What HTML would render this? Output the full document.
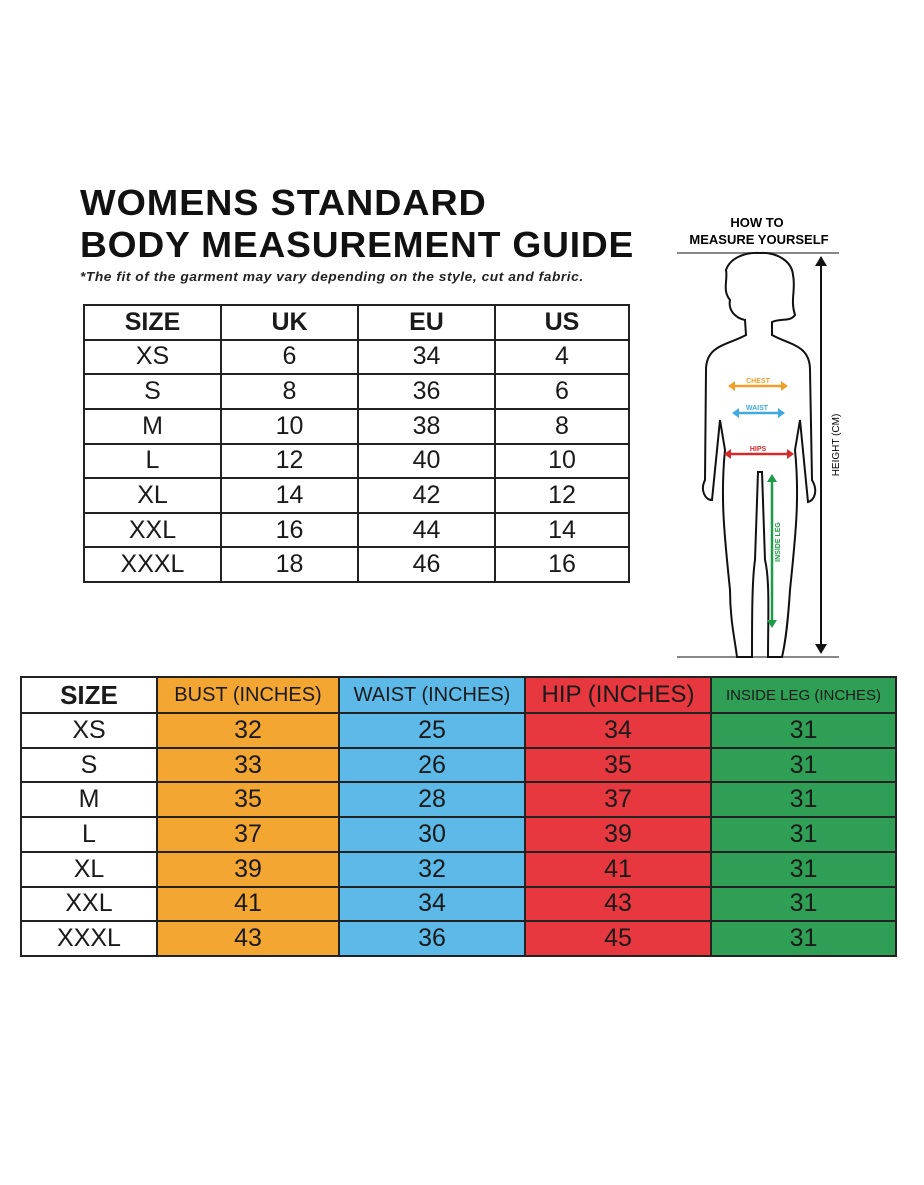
<!DOCTYPE html>
<html><head><style>
body{margin:0;background:#fff;}
.wrap{position:relative;width:924px;height:1185px;overflow:hidden;background:#fff;font-family:"Liberation Sans",sans-serif;}
.t{position:absolute;left:80px;font-weight:bold;font-size:36px;color:#111;letter-spacing:0.8px;white-space:nowrap;transform-origin:left top}
table{position:absolute;border-collapse:collapse;}
td{border:2px solid #222;text-align:center;padding:0;font-size:25px;color:#1a1a1a;}
</style></head><body><div class="wrap">
<div class="t" style="top:182px;transform:scaleX(1.05)">WOMENS STANDARD</div>
<div class="t" style="top:224px;transform:scaleX(1.032)">BODY MEASUREMENT GUIDE</div>
<div style="position:absolute;left:80px;top:269px;font-size:13px;font-style:italic;font-weight:bold;color:#222;letter-spacing:0.5px;transform:scaleX(1.06);transform-origin:left top;white-space:nowrap">*The fit of the garment may vary depending on the style, cut and fabric.</div>

<table style="left:83px;top:304px;width:547px;height:279px">
<tr><td style="width:135px;font-weight:bold">SIZE</td><td style="width:135px;font-weight:bold">UK</td><td style="width:135px;font-weight:bold">EU</td><td style="font-weight:bold">US</td></tr>
<tr><td>XS</td><td>6</td><td>34</td><td>4</td></tr>
<tr><td>S</td><td>8</td><td>36</td><td>6</td></tr>
<tr><td>M</td><td>10</td><td>38</td><td>8</td></tr>
<tr><td>L</td><td>12</td><td>40</td><td>10</td></tr>
<tr><td>XL</td><td>14</td><td>42</td><td>12</td></tr>
<tr><td>XXL</td><td>16</td><td>44</td><td>14</td></tr>
<tr><td>XXXL</td><td>18</td><td>46</td><td>16</td></tr>
</table>

<table style="left:20px;top:676px;width:877px;height:281px">
<tr style="height:36px"><td style="width:134px;font-weight:bold;font-size:26px">SIZE</td><td style="width:180px;background:#f3a732;font-size:20px">BUST (INCHES)</td><td style="width:184px;background:#5db9e7;font-size:20px">WAIST (INCHES)</td><td style="width:184px;background:#e7373f;font-size:24px">HIP (INCHES)</td><td style="background:#2f9f56;font-size:15px">INSIDE LEG (INCHES)</td></tr>
<tr><td>XS</td><td style="background:#f3a732">32</td><td style="background:#5db9e7">25</td><td style="background:#e7373f">34</td><td style="background:#2f9f56">31</td></tr>
<tr><td>S</td><td style="background:#f3a732">33</td><td style="background:#5db9e7">26</td><td style="background:#e7373f">35</td><td style="background:#2f9f56">31</td></tr>
<tr><td>M</td><td style="background:#f3a732">35</td><td style="background:#5db9e7">28</td><td style="background:#e7373f">37</td><td style="background:#2f9f56">31</td></tr>
<tr><td>L</td><td style="background:#f3a732">37</td><td style="background:#5db9e7">30</td><td style="background:#e7373f">39</td><td style="background:#2f9f56">31</td></tr>
<tr><td>XL</td><td style="background:#f3a732">39</td><td style="background:#5db9e7">32</td><td style="background:#e7373f">41</td><td style="background:#2f9f56">31</td></tr>
<tr><td>XXL</td><td style="background:#f3a732">41</td><td style="background:#5db9e7">34</td><td style="background:#e7373f">43</td><td style="background:#2f9f56">31</td></tr>
<tr><td>XXXL</td><td style="background:#f3a732">43</td><td style="background:#5db9e7">36</td><td style="background:#e7373f">45</td><td style="background:#2f9f56">31</td></tr>
</table>

<svg style="position:absolute;left:0;top:0" width="924" height="1185">
<text x="757" y="227" text-anchor="middle" font-family="Liberation Sans" font-weight="bold" font-size="13">HOW TO</text>
<text x="759" y="244" text-anchor="middle" font-family="Liberation Sans" font-weight="bold" font-size="13">MEASURE YOURSELF</text>
<line x1="677" y1="253" x2="839" y2="253" stroke="#888" stroke-width="2"/>
<line x1="677" y1="657" x2="839" y2="657" stroke="#888" stroke-width="2"/>
<line x1="821" y1="258" x2="821" y2="652" stroke="#111" stroke-width="2"/>
<path d="M815 266 L821 256 L827 266 Z M815 644 L821 654 L827 644 Z" fill="#111"/>
<text transform="translate(839,445) rotate(-90)" text-anchor="middle" font-family="Liberation Sans" font-size="10">HEIGHT (CM)</text>
<path fill="none" stroke="#111" stroke-width="2" d="M745 320 C735 318 728 310 730 300 C722 290 728 280 726 270 C730 258 745 252 760 253 C778 252 792 262 793 275 C796 290 790 300 795 315 C790 322 782 318 772 322 L772 335 C790 345 810 345 810 370 L812 480 C818 490 815 500 808 502 L800 420 L795 450 C800 500 795 540 790 590 C788 620 786 640 782 657 L768 657 C768 620 770 580 765 560 L762 472 L758 472 L755 560 C752 580 752 620 752 657 L737 657 C735 640 730 620 730 590 C725 540 720 500 725 450 L720 420 L712 500 C705 500 700 490 705 480 L706 370 C706 345 728 345 746 335 Z"/>
<g stroke-width="2.5">
<line x1="730" y1="386" x2="786" y2="386" stroke="#f0a02a"/><path d="M728 386 l7 -5 v10z M788 386 l-7 -5 v10z" fill="#f0a02a"/>
<line x1="734" y1="413" x2="783" y2="413" stroke="#3fa9e0"/><path d="M732 413 l7 -5 v10z M785 413 l-7 -5 v10z" fill="#3fa9e0"/>
<line x1="726" y1="454" x2="792" y2="454" stroke="#d42a2a"/><path d="M724 454 l7 -5 v10z M794 454 l-7 -5 v10z" fill="#d42a2a"/>
<line x1="772" y1="478" x2="772" y2="624" stroke="#1e9a48"/><path d="M772 474 l-5 8 h10z M772 628 l-5 -8 h10z" fill="#1e9a48"/>
</g>
<text x="758" y="383" text-anchor="middle" font-family="Liberation Sans" font-weight="bold" font-size="7" fill="#f0a02a">CHEST</text>
<text x="757" y="410" text-anchor="middle" font-family="Liberation Sans" font-weight="bold" font-size="7" fill="#3fa9e0">WAIST</text>
<text x="758" y="451" text-anchor="middle" font-family="Liberation Sans" font-weight="bold" font-size="7" fill="#d42a2a">HIPS</text>
<text transform="translate(780,542) rotate(-90)" text-anchor="middle" font-family="Liberation Sans" font-weight="bold" font-size="7" fill="#1e9a48">INSIDE LEG</text>
</svg>
</div></body></html>
